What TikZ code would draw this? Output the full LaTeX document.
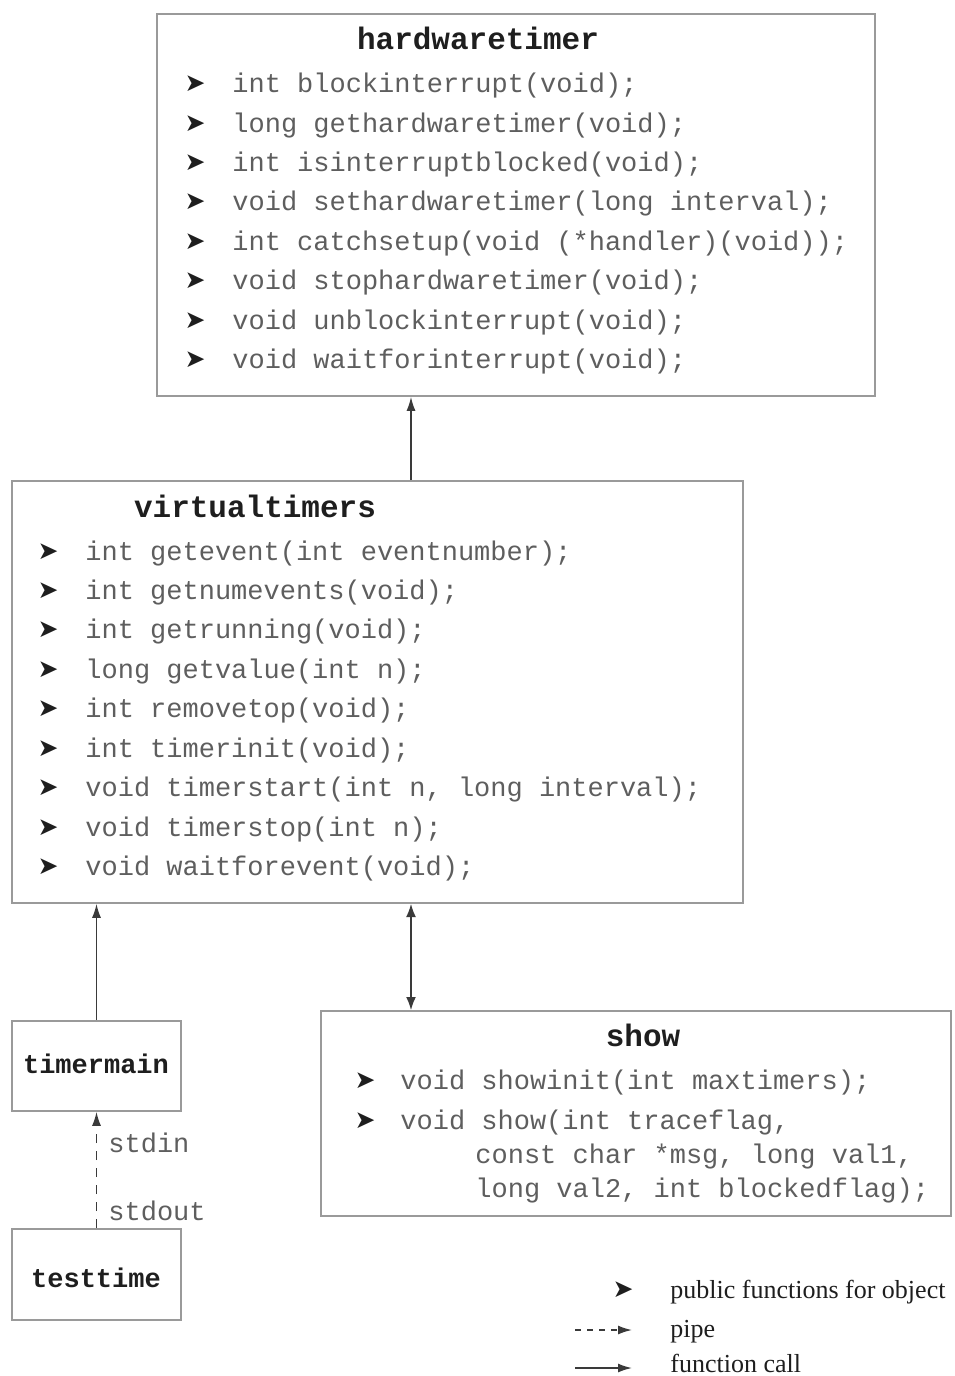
\documentclass[tikz,border=0pt]{standalone}
\usepackage{fontspec}
\setmainfont{Liberation Serif}
\setmonofont{Liberation Mono}
\newfontfamily\symfont{DejaVu Sans}
\usetikzlibrary{arrows.meta, positioning, fit}
\definecolor{boxgray}{HTML}{9A9A9A}
\definecolor{codegray}{HTML}{5E5E5E}
\definecolor{titleink}{HTML}{1E1E1E}
\definecolor{arrowink}{HTML}{3A3A3A}

\begin{document}
\begin{tikzpicture}[
  x=0.5pt, y=-0.5pt,
  objbox/.style={draw=boxgray, line width=0.8pt, inner sep=0pt},
  title/.style={font=\fontsize{15.5}{18}\selectfont\ttfamily\bfseries, text=titleink, inner sep=0pt},
  smalltitle/.style={title, font=\fontsize{13.5}{16}\selectfont\ttfamily\bfseries},
  code/.style={font=\fontsize{13.5}{16}\selectfont\ttfamily, text=codegray, anchor=base west, inner sep=0pt},
  bullet/.style={font=\fontsize{12.5}{14}\selectfont\symfont, text=titleink, inner sep=0pt},
  lbl/.style={code, anchor=west},
  legend/.style={font=\fontsize{13}{15}\selectfont, text=titleink, anchor=base west, inner sep=0pt},
  call/.style={draw=arrowink, line width=0.8pt, -{Latex[length=7pt,width=4.5pt]}},
  pipe/.style={call, dash pattern=on 4.5pt off 4pt},
  >=Latex
]
  \useasboundingbox (0,0) rectangle (954,1376);

  % Object boxes
  \node[objbox, fit={(157,14) (875,396)}] (hw) {};
  \node[objbox, fit={(12,481) (743,903)}] (virt) {};
  \node[objbox, fit={(12,1021) (181,1111)}] (tmain) {};
  \node[objbox, fit={(12,1229) (181,1320)}] (ttime) {};
  \node[objbox, fit={(321,1011) (951,1216)}] (show) {};

  % Titles
  \node[title] (hwtitle) at (478,38) {hardwaretimer};
  \node[title] (virttitle) at (255,506) {virtualtimers};
  \node[title] (showtitle) at (643,1035) {show};
  \node[smalltitle] (tmaintitle) at (96,1064) {timermain};
  \node[smalltitle] (ttimetitle) at (96,1278) {testtime};

  % hardwaretimer functions
  \foreach \y/\txt [count=\i] in {84/{int blockinterrupt(void);},
      124/{long gethardwaretimer(void);}, 163/{int isinterruptblocked(void);},
      202/{void sethardwaretimer(long interval);},
      242/{int catchsetup(void (*handler)(void));},
      281/{void stophardwaretimer(void);}, 321/{void unblockinterrupt(void);},
      360/{void waitforinterrupt(void);}} {
    \node[bullet] (hwb\i) at (195,\y) {➤};
    \node[code] (hwf\i) at (232,{\y+8}) {\txt};
  }

  % virtualtimers functions
  \foreach \y/\txt [count=\i] in {552/{int getevent(int eventnumber);},
      591/{int getnumevents(void);}, 630/{int getrunning(void);},
      670/{long getvalue(int n);}, 709/{int removetop(void);},
      749/{int timerinit(void);}, 788/{void timerstart(int n, long interval);},
      828/{void timerstop(int n);}, 867/{void waitforevent(void);}} {
    \node[bullet] (vtb\i) at (48,\y) {➤};
    \node[code] (vtf\i) at (85,{\y+8}) {\txt};
  }

  % show functions
  \node[bullet] (shb1) at (365,1081) {➤};
  \node[code] (shf1) at (400,1089) {void showinit(int maxtimers);};
  \node[bullet] (shb2) at (365,1121) {➤};
  \node[code] (shf2) at (400,1129) {void show(int traceflag,};
  \node[code] (shf3) at (475,1163) {const char *msg, long val1,};
  \node[code] (shf4) at (475,1197) {long val2, int blockedflag);};

  % Connectors
  \coordinate (vtpin) at (411,0);
  \draw[call] (virt.north -| vtpin) -- (hw.south -| vtpin);
  \draw[call, <->] (virt.south -| vtpin) -- (show.north -| vtpin);
  \draw[call] (tmain.north) -- (virt.south -| tmain.north);
  \draw[pipe] (ttime.north) -- (tmain.south);
  \node[lbl] (stdin) at (108,1143) {stdin};
  \node[lbl] (stdout) at (108,1211) {stdout};

  % Legend
  \node[bullet] (legb) at (623,1290) {➤};
  \node[legend] (legpub) at (670,1298) {public functions for object};
  \coordinate (pipefrom) at (575,1330);
  \coordinate (pipeto) at (632,1330);
  \draw[pipe, dash pattern=on 3pt off 3pt] (pipefrom) -- (pipeto);
  \node[legend] (legpipe) at (670,1337) {pipe};
  \coordinate (callfrom) at (575,1368);
  \coordinate (callto) at (632,1368);
  \draw[call] (callfrom) -- (callto);
  \node[legend] (legcall) at (670,1372) {function call};
\end{tikzpicture}
\end{document}
